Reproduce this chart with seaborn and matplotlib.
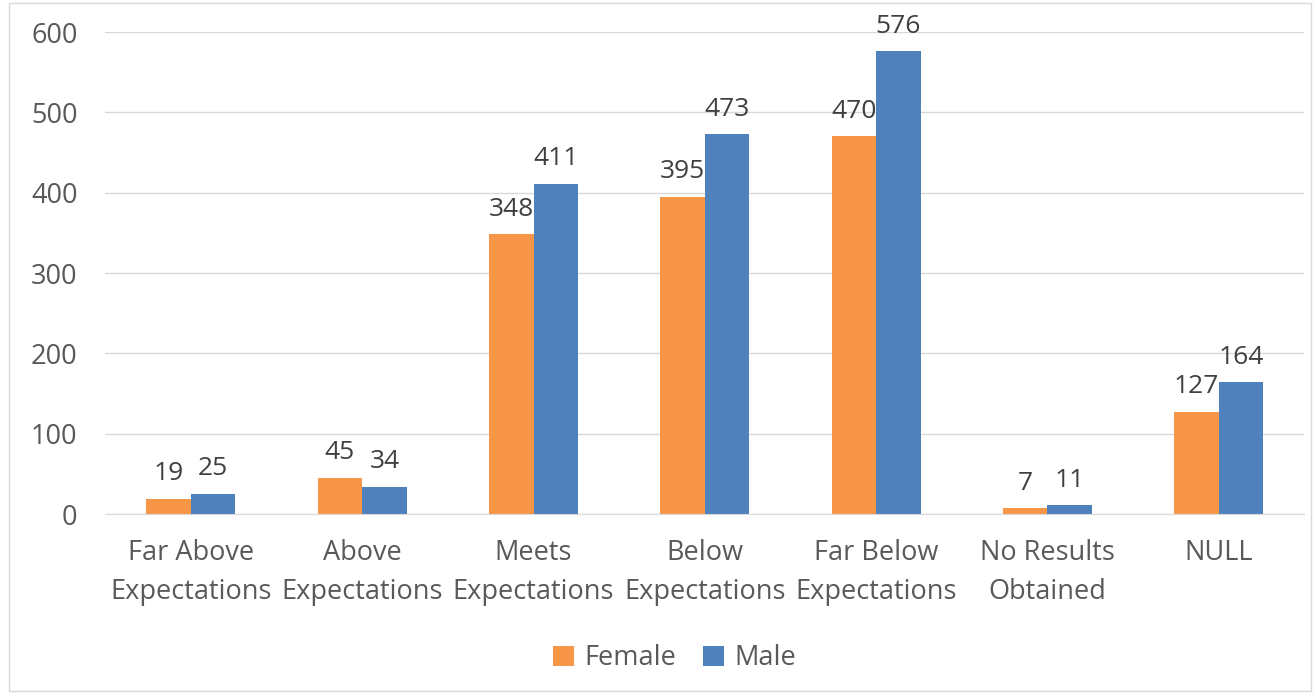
import pandas as pd
import matplotlib.pyplot as plt
import seaborn as sns
from matplotlib.patches import Rectangle

categories = ['Far Above\nExpectations', 'Above\nExpectations', 'Meets\nExpectations',
              'Below\nExpectations', 'Far Below\nExpectations', 'No Results\nObtained', 'NULL']
female = [19, 45, 348, 395, 470, 7, 127]
male = [25, 34, 411, 473, 576, 11, 164]

df = pd.DataFrame({
    'category': categories * 2,
    'count': female + male,
    'gender': ['Female'] * len(categories) + ['Male'] * len(categories),
})

sns.set_style('white')
plt.rcParams['font.family'] = ['Open Sans', 'DejaVu Sans']

fig = plt.figure(figsize=(13.15, 6.98), dpi=100)
ax = fig.add_axes([0.08, 0.2636, 0.912, 0.6905])

sns.barplot(data=df, x='category', y='count', hue='gender',
            palette={'Female': '#F79646', 'Male': '#4F81BD'},
            width=0.52, gap=0, saturation=1, linewidth=0, ax=ax)

for c in ax.containers:
    ax.bar_label(c, fontsize=19, color='#404040', padding=9)

ax.set_ylim(0, 600)
ax.set_yticks(range(0, 601, 100))
ax.yaxis.grid(True, color='#D9D9D9', linewidth=1)
ax.set_axisbelow(True)
for s in ['top', 'right', 'left']:
    ax.spines[s].set_visible(False)
ax.spines['bottom'].set_color('#D9D9D9')
ax.tick_params(axis='both', colors='#595959', labelsize=19.5, length=0)
ax.tick_params(axis='x', pad=18)
ax.tick_params(axis='y', pad=20)
for t in ax.get_xticklabels():
    t.set_linespacing(1.5)
ax.set_xlabel('')
ax.set_ylabel('')

ax.legend(loc='upper center', bbox_to_anchor=(0.475, -0.22), ncol=2, frameon=False,
          fontsize=19.5, labelcolor='#595959', handlelength=0.75, handleheight=0.75,
          handletextpad=0.4, columnspacing=1.0)

fig.patches.append(Rectangle((0.007, 0.01), 0.99, 0.985, transform=fig.transFigure,
                             fill=False, edgecolor='#D9D9D9', linewidth=1))

plt.savefig('out.png', dpi=100)
